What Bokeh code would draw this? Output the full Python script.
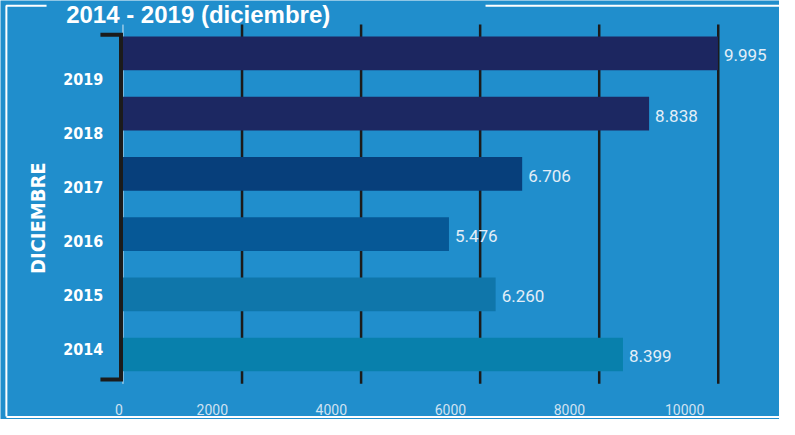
from bokeh.plotting import figure
from bokeh.models import Range1d, ColumnDataSource
from bokeh.core.properties import value
from bokeh.embed import file_html
from bokeh.resources import INLINE
import math

# ---- data ----
years = ["2014", "2015", "2016", "2017", "2018", "2019"]
totals = [8399, 6260, 5476, 6706, 8838, 9995]
bar_colors = ["#0880AC", "#0F76AA", "#065896", "#073F7B", "#1C2862", "#1C2660"]
x_ticks = [0, 2000, 4000, 6000, 8000, 10000]
title_text = "2014 - 2019 (diciembre)"
side_label = "DICIEMBRE"

BG = "#208ECC"
COND = "DejaVu Sans Condensed, Roboto Condensed, Roboto, sans-serif"

# reference-pixel helpers for decorations
X0_PX, PX_PER_UNIT = 125.0, 0.06075
Y0_PX, PX_PER_ROW = 367.5, 62.5
def dx(px):
    return (px - X0_PX) / PX_PER_UNIT
def dy(py):
    return (Y0_PX - py) / PX_PER_ROW

p = figure(width=779, height=419, output_backend="svg", toolbar_location=None,
           x_range=Range1d(dx(0), dx(795)), y_range=Range1d(dy(435), dy(0)),
           min_border=0, background_fill_color=BG, border_fill_color=BG)
p.axis.visible = False
p.grid.visible = False
p.outline_line_color = None

rows = list(range(len(years)))

# white frame lines
p.line(x=[dx(6), dx(6), dx(47)], y=[dy(432), dy(5.5), dy(5.5)], line_color="white", line_width=2)
p.line(x=[dx(495), dx(800)], y=[dy(5.5), dy(5.5)], line_color="white", line_width=2)
p.line(x=[dx(6), dx(800)], y=[dy(432.5), dy(432.5)], line_color="white", line_width=2)

# title
p.text(x=[dx(67)], y=[dy(15)], text=[title_text], text_color="white",
       text_font=value("Liberation Sans"), text_font_style="bold", text_font_size="24px",
       text_baseline="alphabetic", text_align="left")

# grid lines
p.segment(x0=[0], y0=[dy(398)], x1=[0], y1=[dy(25)], line_color="#d8e8f4", line_width=1)
p.segment(x0=x_ticks[1:], y0=[dy(398)] * 5, x1=x_ticks[1:], y1=[dy(25)] * 5,
          line_color="#1b1b1b", line_width=2.5)

# bars
src = ColumnDataSource(dict(y=rows, right=totals, color=bar_colors,
                            label=[f"{v:,}".replace(",", ".") for v in totals]))
p.hbar(y="y", right="right", left=0, height=0.56, fill_color="color", line_color=None, source=src)
p.text(x="right", y="y", text="label", source=src, x_offset=6, y_offset=2,
       text_color="#E3EEF8", text_font=value("Roboto"), text_font_size="17px",
       text_baseline="middle", text_align="left")

# bracket
p.line(x=[dx(102), dx(123), dx(123), dx(102)],
       y=[dy(35.5), dy(35.5), dy(393.5), dy(393.5)],
       line_color="#1b1b1b", line_width=4, line_join="miter")

# year labels
p.text(x=[dx(105)] * len(years), y=[0.09 + 0.896 * r for r in rows], text=years,
       text_color="white", text_font=value(COND), text_font_style="bold",
       text_font_size="16px", text_baseline="middle", text_align="right")

# side label
p.text(x=[dx(38)], y=[dy(226)], text=[side_label], angle=math.pi / 2,
       text_color="white", text_font=value(COND), text_font_style="bold",
       text_font_size="20px", text_baseline="middle", text_align="center")

# x tick labels
p.text(x=x_ticks, y=[dy(425)] * len(x_ticks), text=[str(t) for t in x_ticks],
       x_offset=[0 if t == 0 else -14 for t in x_ticks],
       text_color="#CFE2F2", text_font=value("Roboto"), text_font_size="14px",
       text_baseline="middle", text_align="right")

open("out.html", "w").write(file_html(p, INLINE))
